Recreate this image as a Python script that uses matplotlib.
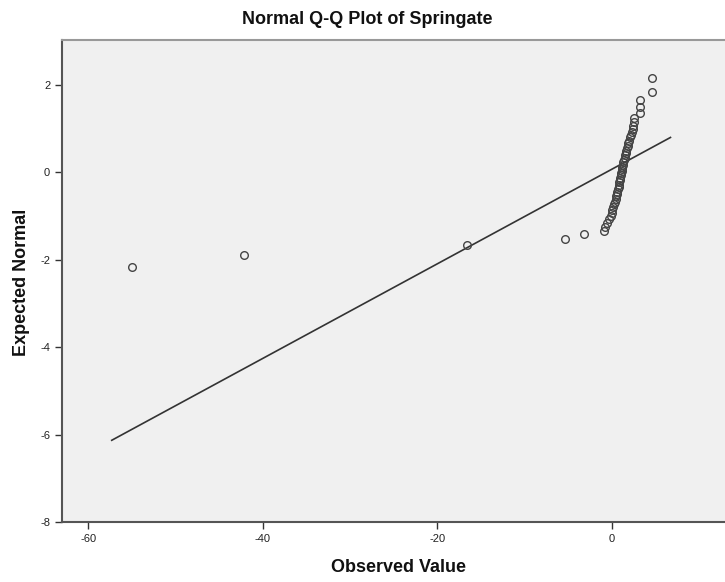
import matplotlib.pyplot as plt

observed = [-55.0, -42.1, -16.6, -5.3, -3.2,
            -0.9, -0.7, -0.5, -0.3, -0.1, 0.0, 0.1, 0.2, 0.3, 0.35,
            0.45, 0.5, 0.6, 0.65, 0.7, 0.8, 0.85, 0.9, 0.95, 1.0,
            1.05, 1.1, 1.15, 1.2, 1.25, 1.3, 1.35, 1.4, 1.5, 1.55,
            1.6, 1.7, 1.75, 1.85, 1.9, 2.0, 2.1, 2.2, 2.3, 2.4,
            2.5, 2.55, 2.6, 3.2, 3.3, 3.2, 4.6, 4.6]
expected = [-2.17, -1.88, -1.67, -1.53, -1.42,
            -1.33, -1.24, -1.15, -1.07, -1.00, -0.93, -0.86, -0.80, -0.73, -0.67,
            -0.61, -0.55, -0.50, -0.44, -0.39, -0.33, -0.28, -0.23, -0.18, -0.12,
            -0.07, -0.02, 0.03, 0.08, 0.13, 0.18, 0.23, 0.28, 0.33, 0.39,
            0.44, 0.50, 0.55, 0.61, 0.67, 0.73, 0.80, 0.86, 0.93, 1.00,
            1.07, 1.15, 1.24, 1.35, 1.49, 1.65, 1.83, 2.15]

# reference line end points
line_x = [-57.3, 6.75]
line_y = [-6.13, 0.80]

x_ticks = [-60, -40, -20, 0]
y_ticks = [-8, -6, -4, -2, 0, 2]

plt.rcParams['font.family'] = ['Liberation Sans', 'DejaVu Sans']
plt.rcParams['axes.unicode_minus'] = False

fig = plt.figure(figsize=(7.25, 5.82), dpi=100)
ax = fig.add_axes([62 / 725, 60 / 582, 1 - 62 / 725, 482 / 582])
ax.set_facecolor('#f0f0f0')

ax.plot(line_x, line_y, color='#333333', lw=1.2, zorder=2)
ax.plot(observed, expected, 'o', mfc='none', mec='#444444', ms=5.5, mew=1.0, zorder=3)

ax.set_xlim(-63, 13)
ax.set_ylim(-8, 3.03)
ax.set_xticks(x_ticks)
ax.set_yticks(y_ticks)
ax.tick_params(direction='out', length=5, width=1, colors='#333333', labelsize=8,
               labelcolor='#222222')

for s in ['left', 'bottom']:
    ax.spines[s].set_color('#555555')
    ax.spines[s].set_linewidth(1.5)
ax.spines['top'].set_color('#999999')
ax.spines['top'].set_linewidth(1.5)
ax.spines['right'].set_visible(False)

fig.text(367 / 725, 1 - 20 / 582, 'Normal Q-Q Plot of Springate', ha='center', va='center',
         fontsize=13, fontweight='bold', color='#111111')
fig.text(399 / 725, 1 - 568 / 582, 'Observed Value', ha='center', va='center',
         fontsize=13, fontweight='bold', color='#111111')
fig.text(22 / 725, 1 - 282 / 582, 'Expected Normal', ha='center', va='center', rotation=90,
         fontsize=13, fontweight='bold', color='#111111')

fig.savefig('out.png', dpi=100, facecolor='white')
